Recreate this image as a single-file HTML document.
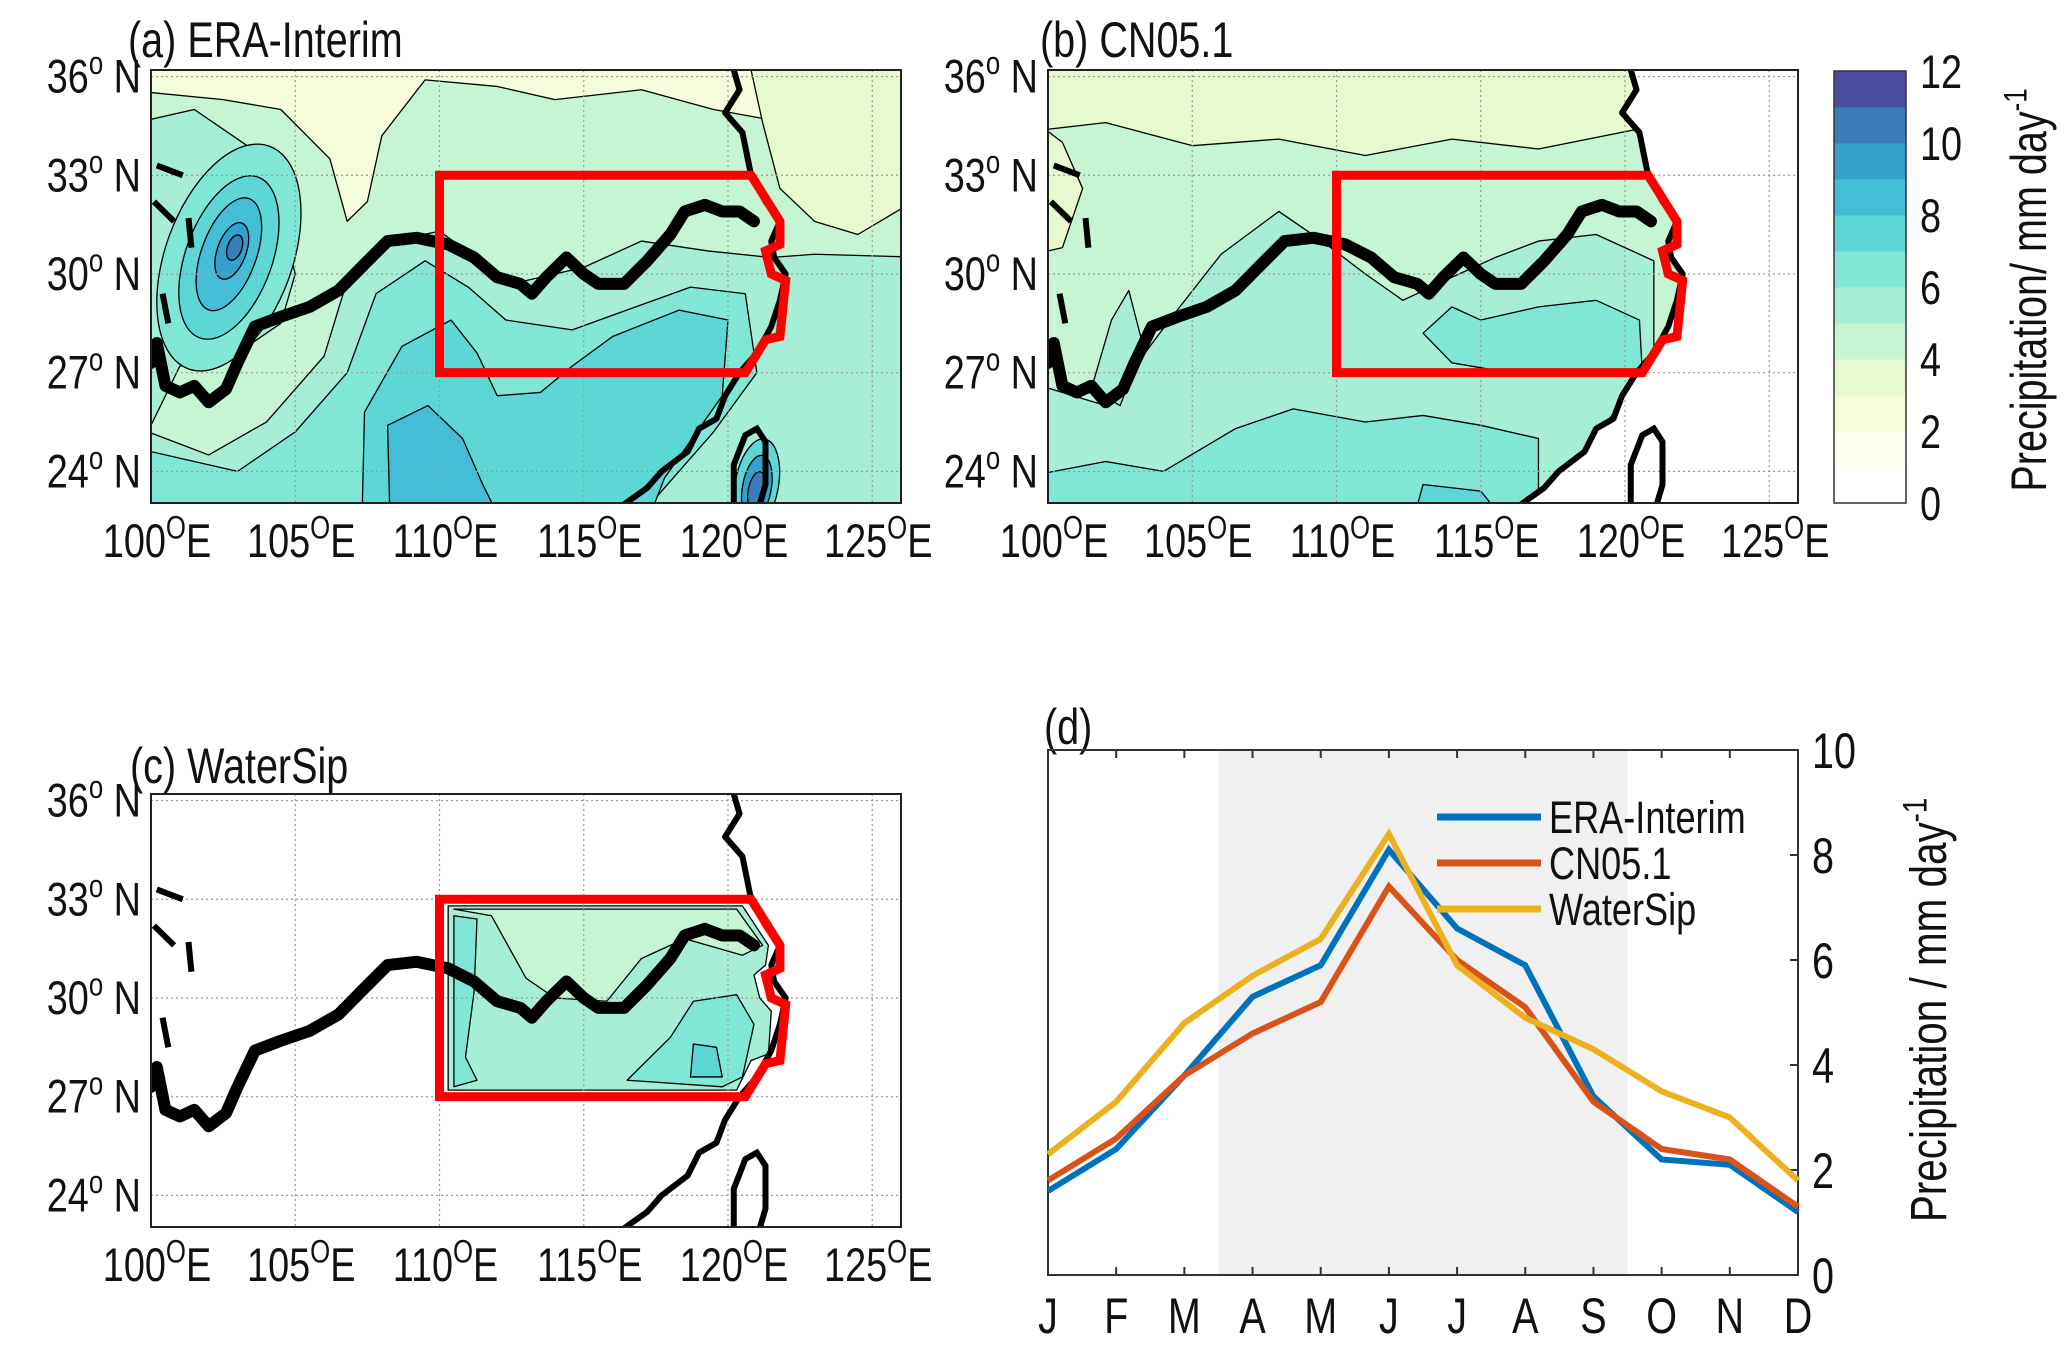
<!DOCTYPE html>
<html><head><meta charset="utf-8"><style>
html,body{margin:0;padding:0;background:#fff;}
svg{display:block;font-family:"Liberation Sans",Arial,sans-serif;}
</style></head><body>
<svg id="fig" width="2067" height="1352" viewBox="0 0 2067 1352" xmlns="http://www.w3.org/2000/svg"></svg>
<script>
// ---- panel (d) data ----
const months = ["J","F","M","A","M","J","J","A","S","O","N","D"];
const eraValues = [1.6,2.4,3.8,5.3,5.9,8.1,6.6,5.9,3.4,2.2,2.1,1.2];
const cnValues = [1.8,2.6,3.8,4.6,5.2,7.4,6.0,5.1,3.3,2.4,2.2,1.3];
const wsValues = [2.3,3.3,4.8,5.7,6.4,8.4,5.9,4.9,4.3,3.5,3.0,1.8];
const yTicks = [0,2,4,6,8,10];
const seriesNames = ["ERA-Interim","CN05.1","WaterSip"];
const cbarTicks = [0,2,4,6,8,10,12];
const cbarColors = ["#ffffff","#fefff0","#f4fcdb","#e6f9cf","#c5f5d3","#a6efd6","#80e7d6","#5dd6d6","#44bdd6","#34a1cc","#3b7db9","#4b4b9f"];
const lonTicks = [100,105,110,115,120,125];
const latTicks = [24,27,30,33,36];

const NS="http://www.w3.org/2000/svg";
const svg=document.getElementById('fig');
function mk(tag,attrs,parent){const e=document.createElementNS(NS,tag);for(const k in attrs)e.setAttribute(k,attrs[k]);(parent||svg).appendChild(e);return e;}
// narrow tall text: positioned via transform
function ntext(x,y,size,anchor,parent,rot){
  const tr=rot?`translate(${x},${y}) rotate(-90) scale(0.86,1.08)`:`translate(${x},${y}) scale(0.86,1.08)`;
  return mk('text',{x:0,y:0,'font-size':size,fill:'#111','text-anchor':anchor||'start',transform:tr},parent);
}

const C={c4:"#c5f5d3",c5:"#a6efd6",c6:"#80e7d6",c7:"#5dd6d6",c8:"#44bdd6",c9:"#34a1cc",c10:"#3b7db9",c11:"#4b4b9f",y:"#f4fcdb",y3:"#e6f9cf"};

const coast=[[120.2,36.2],[120.4,35.6],[119.9,34.9],[120.5,34.3],[120.8,33],[121.3,32.2],[121.8,31.6],[121.5,31.0],[121.6,30.5],[122,30.0],[121.8,29.2],[121.5,28.4],[121,27.6],[120.4,27],[119.9,26.3],[119.6,25.6],[119,25.3],[118.6,24.6],[117.7,24.0],[117.2,23.5],[116.4,23.0]];
const taiwan=[[120.2,23.0],[120.2,24.2],[120.6,25.1],[121.0,25.3],[121.3,24.9],[121.3,23.6],[121.1,23.0]];
const river=[[100,27.3],[100.2,27.9],[100.5,26.6],[101,26.4],[101.5,26.6],[102,26.1],[102.6,26.5],[103,27.3],[103.6,28.4],[104.5,28.7],[105.5,29.0],[106.5,29.5],[107.4,30.3],[108.2,31.0],[109.2,31.1],[110.3,30.9],[111.2,30.5],[112,29.9],[112.8,29.7],[113.2,29.4],[113.7,29.9],[114.4,30.5],[115,30.0],[115.5,29.7],[116.4,29.7],[117.2,30.4],[118,31.2],[118.5,31.9],[119.2,32.1],[119.8,31.9],[120.4,31.9],[120.9,31.6]];
const redBox=[[110,33],[120.8,33],[121.8,31.6],[121.8,30.9],[121.3,30.7],[121.5,30.0],[122,29.8],[121.8,28.1],[121.3,28.0],[120.6,27.0],[110,27]];
const yellowRiverBits=[[[100.2,33.3],[101.1,33.0]],[[101.3,31.7],[101.4,30.8]],[[100.1,32.2],[100.8,31.6]],[[100.4,29.4],[100.6,28.5]]];

function makeMap(x0,y0,name,fills){
  const sx=28.85, sy=32.9;
  const P=(lo,la)=>[x0+(lo-100)*sx, y0+(36.2-la)*sy];
  const g=mk('g',{});
  
  
  const cid='clip'+name;
  const cp=mk('clipPath',{id:cid},g); mk('rect',{x:x0,y:y0,width:750,height:433},cp);
  const inner=mk('g',{'clip-path':`url(#${cid})`},g);
  const pstr=pts=>pts.map(p=>P(p[0],p[1]).join(',')).join(' ');
  fills.forEach(f=>{
    if(f.e){const c=P(f.e[0],f.e[1]);const el=mk('ellipse',{cx:c[0],cy:c[1],rx:f.e[2]*sx,ry:f.e[3]*sy,fill:f.c,stroke:'#000','stroke-width':1.3,transform:`rotate(${f.r||0} ${c[0]} ${c[1]})`},inner);
      
      }
    else{const el=mk('polygon',{points:pstr(f.p),fill:f.c,stroke:f.ns?'none':'#000','stroke-width':1.3,'stroke-linejoin':'round'},inner);
      
      }
  });
  lonTicks.slice(1).forEach(lo=>{const a=P(lo,0);mk('line',{x1:a[0],x2:a[0],y1:y0,y2:y0+433,stroke:'#999','stroke-width':1.2,'stroke-dasharray':'2,3'},inner);});
  latTicks.forEach(la=>{const a=P(100,la);mk('line',{x1:x0,x2:x0+750,y1:a[1],y2:a[1],stroke:'#999','stroke-width':1.2,'stroke-dasharray':'2,3'},inner);});
  const cl=mk('polyline',{points:pstr(coast),fill:'none',stroke:'#000','stroke-width':6,'stroke-linejoin':'round'},inner);
  
  
  mk('polyline',{points:pstr(taiwan),fill:'none',stroke:'#000','stroke-width':6},inner);
  yellowRiverBits.forEach(b=>mk('polyline',{points:pstr(b),fill:'none',stroke:'#000','stroke-width':6},inner));
  const rv=mk('polyline',{points:pstr(river),fill:'none',stroke:'#000','stroke-width':12,'stroke-linejoin':'round','stroke-linecap':'round'},inner);
  
  
  const rb=mk('polygon',{points:pstr(redBox),fill:'none',stroke:'#ff0000','stroke-width':9,'stroke-linejoin':'miter'},inner);
  
  
  mk('rect',{x:x0,y:y0,width:750,height:433,fill:'none',stroke:'#222','stroke-width':2},g);
  latTicks.forEach(la=>{const a=P(100,la);
    const t=ntext(x0-10,a[1]+16,44,'end',g);
    
    
    t.innerHTML=`${la}<tspan dy="-17" font-size="30">o</tspan><tspan dy="17"> N</tspan>`;});
  lonTicks.forEach(lo=>{const a=P(lo,0);
    const t=ntext(a[0]+6,y0+487,44,'middle',g);
    
    
    t.innerHTML=`${lo}<tspan dy="-17" font-size="30">O</tspan><tspan dy="17">E</tspan>`;});
  return g;
}

const fillsA=[
 {p:[[99,37],[127,37],[127,22],[99,22]],c:C.c4},
 {p:[[99,37],[127,37],[127,34.8],[124,35.4],[122,34.6],[119.5,35.0],[117,35.6],[114,35.3],[112,35.7],[109.5,35.9],[108,34.2],[107.5,32.2],[106.8,31.6],[106.2,33.5],[104.5,35.0],[102.5,35.3],[99,35.6]],c:C.y},
 {p:[[120.6,37],[127,37],[127,32.5],[124.5,31.2],[123,31.6],[121.8,32.6],[121.2,34.6]],c:C.y3},
 {p:[[99,23.6],[99,34.5],[101.5,35],[104,33.5],[105,30],[104.5,28.5],[103,27.6],[101,27.2]],c:C.c5},
 {p:[[99,22],[99,25.5],[102,24.5],[104,25.5],[106,27.5],[106.8,29.8],[108.3,31.0],[110,31.3],[112.5,29.7],[115,30.2],[117,31.0],[119.3,30.7],[121.5,30.5],[123,30.6],[127,30.5],[127,22]],c:C.c5},
 {p:[[99,22],[99,24.8],[103,24.0],[105,25.2],[106.8,27],[107.8,29.4],[109.5,30.4],[111,29.6],[112.3,28.6],[114.6,28.3],[116.8,29.0],[118.7,29.6],[120.6,29.4],[121,27],[119.5,25.2],[117.5,23.2],[117,22]],c:C.c6},
 {p:[[107.3,22],[107.4,25.8],[108.7,27.8],[110.4,28.6],[111.3,27.6],[112,26.3],[113.5,26.4],[114.6,27.2],[116,28.1],[118.3,28.9],[120,28.6],[119.8,26.3],[117.8,23.8],[117,22]],c:C.c7},
 {p:[[108.3,22],[108.2,25.4],[109.6,26.0],[110.8,25.0],[111.5,23.6],[112.4,22]],c:C.c8},
 {e:[102.7,30.5,2.2,3.6],r:20,c:C.c6},{e:[102.7,30.5,1.5,2.6],r:20,c:C.c7},{e:[102.7,30.6,0.95,1.8],r:20,c:C.c8},{e:[102.8,30.7,0.5,0.9],r:20,c:C.c9},{e:[102.9,30.8,0.25,0.4],r:20,c:C.c10},
 {e:[121,23.6,0.75,1.4],r:10,c:C.c7},{e:[121,23.5,0.5,1.0],r:10,c:C.c9},{e:[121,23.4,0.3,0.6],r:10,c:C.c10}
];
const oceanB=[[120.2,37],[127,37],[127,22],[116.4,22],[116.4,23.0],[117.2,23.5],[117.7,24.0],[118.6,24.6],[119,25.3],[119.6,25.6],[119.9,26.3],[120.4,27],[121,27.6],[121.5,28.4],[121.8,29.2],[122,30.0],[121.6,30.5],[121.5,31.0],[121.8,31.6],[121.3,32.2],[120.8,33],[120.5,34.3],[119.9,34.9],[120.4,35.6]];
const fillsB=[
 {p:[[99,37],[127,37],[127,22],[99,22]],c:C.c4},
 {p:[[99,37],[122,37],[121,34.5],[117,33.8],[114,34.1],[111,33.6],[108,34.1],[105,33.9],[102,34.6],[99,34.3]],c:C.y3},
 {p:[[99,35],[99,30.5],[100.5,30.8],[101.2,32.6],[100.5,34]],c:C.y3},
 {p:[[99,22],[99,26.8],[102,26],[104.3,28.7],[106,30.6],[108,31.9],[109.5,31],[111,30],[112.3,29.2],[114,29.9],[115.5,30.5],[117,31.0],[119,31.2],[121,30.4],[121,27.3],[118,24],[116.4,22]],c:C.c5},
 {p:[[101.5,26.5],[102.2,28.6],[102.8,29.5],[103.3,27.8],[102.5,26.0]],c:C.c5},
 {p:[[99,22],[99,23.8],[102,24.3],[104,24.0],[106.5,25.3],[108.5,25.9],[111,25.5],[113,25.7],[115,25.4],[117,25.0],[117,22]],c:C.c6},
 {p:[[113,28.2],[114,29.0],[115,28.6],[117,29.0],[119,29.2],[120.5,28.6],[120.6,27.0],[116,27.0],[114,27.3]],c:C.c6},
 {p:[[112.5,22],[113,23.6],[115,23.4],[116.3,22]],c:C.c7},
 {p:[[113.5,22],[114.5,23.0],[116,22]],c:C.c8},
 {p:oceanB,c:'#ffffff',ns:1}
];
const fillsC=[
 {p:[[99,37],[127,37],[127,22],[99,22]],c:'#ffffff',ns:1},
 {p:[[110.3,32.8],[120.5,32.8],[121.4,31.6],[121.3,31.0],[120.9,30.7],[121.1,30.0],[121.5,29.6],[121.4,28.3],[120.8,28.1],[120.3,27.2],[110.3,27.2]],c:C.c5},
 {p:[[110.5,32.7],[120.3,32.7],[121.2,31.6],[120.5,31.3],[118.5,31.8],[117,31.2],[115.8,29.9],[114,30.0],[113,30.6],[111.8,32.5]],c:C.c4},
 {p:[[110.5,32.5],[111.3,32.4],[111.2,30.2],[110.9,28.2],[111.3,27.5],[110.5,27.3]],c:C.c6},
 {p:[[116.5,27.5],[118,28.8],[118.8,29.9],[120.3,30.1],[120.9,29.2],[120.5,27.6],[119.8,27.3]],c:C.c6},
 {p:[[118.7,27.6],[118.8,28.6],[119.6,28.5],[119.8,27.6]],c:C.c7}
];

makeMap(151,70,'map-era-interim',fillsA);
makeMap(1048,70,'map-cn05',fillsB);
makeMap(151,794,'map-watersip',fillsC);

function title(x,y,txt,name){const t=ntext(x,y,46,'start');
  
  
  t.textContent=txt;}
title(128,57,"(a) ERA-Interim","title-a");
title(1040,57,"(b) CN05.1","title-b");
title(130,783,"(c) WaterSip","title-c");
title(1044,744,"(d)","title-d");

// colorbar
const cb=mk('g',{});


const cbx=1834,cby=71,cbw=72,cbh=432;
cbarColors.forEach((c,i)=>{mk('rect',{x:cbx,y:cby+cbh-(i+1)*cbh/12,width:cbw,height:cbh/12+0.5,fill:c},cb);});
mk('rect',{x:cbx,y:cby,width:cbw,height:cbh,fill:'none',stroke:'#333','stroke-width':1.5},cb);
cbarTicks.forEach(v=>{const y=cby+cbh-v*cbh/12;
  const t=ntext(cbx+86,y+17,44,'start',cb);
  
  
  t.textContent=v;});
const cbl=ntext(2046,290,46,'middle',svg,true);


cbl.innerHTML='Precipitation/ mm day<tspan dy="-18" font-size="30">-1</tspan>';

// panel d
const L=1048,R=1798,T=750,B=1275,yMax=10;
const xS=i=>L+i*(R-L)/11;
const yS=v=>B-v*(B-T)/yMax;
const pd=mk('g',{});


mk('rect',{x:xS(2.5),y:T,width:xS(8.5)-xS(2.5),height:B-T,fill:'#f0f0f0'},pd);
mk('rect',{x:L,y:T,width:R-L,height:B-T,fill:'none',stroke:'#333','stroke-width':2},pd);
months.forEach((m,i)=>{const x=xS(i);
  mk('line',{x1:x,x2:x,y1:B,y2:B-8,stroke:'#333','stroke-width':2},pd);
  mk('line',{x1:x,x2:x,y1:T,y2:T+8,stroke:'#333','stroke-width':2},pd);
  const t=ntext(x,B+58,46,'middle',pd);
  
  
  t.textContent=m;});
yTicks.forEach(v=>{const y=yS(v);
  mk('line',{x1:R,x2:R-8,y1:y,y2:y,stroke:'#333','stroke-width':2},pd);
  const t=ntext(R+14,y+18,46,'start',pd);
  
  
  t.textContent=v;});
const yl=ntext(1946,1010,47,'middle',pd,true);


yl.innerHTML='Precipitation / mm day<tspan dy="-18" font-size="32">-1</tspan>';
const allSeries=[eraValues,cnValues,wsValues];
const cols=["#0072bd","#d95319","#edb120"];
const sNames=["line-era-interim","line-cn05","line-watersip"];
allSeries.forEach((vals,k)=>{
  const pl=mk('polyline',{points:vals.map((v,i)=>xS(i)+','+yS(v)).join(' '),fill:'none',stroke:cols[k],'stroke-width':6,'stroke-linejoin':'miter'},pd);
  
  
});
seriesNames.forEach((n,k)=>{const y=817+k*46;
  const lg=mk('g',{},pd);
  
  
  mk('line',{x1:1437,x2:1541,y1:y,y2:y,stroke:cols[k],'stroke-width':7},lg);
  const t=ntext(1549,y+16,42,'start',lg);
  t.textContent=n;});
</script>
</body></html>
